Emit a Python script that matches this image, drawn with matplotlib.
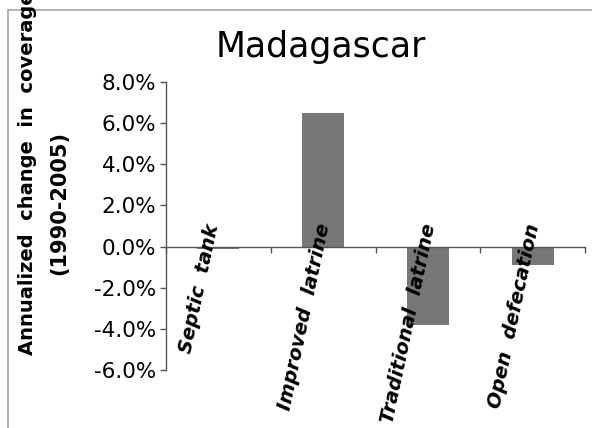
import matplotlib.pyplot as plt
from matplotlib.patches import Rectangle

categories = ["Septic  tank", "Improved  latrine", "Traditional  latrine", "Open  defecation"]
values = [-0.1, 6.5, -3.8, -0.9]
yticks = [-6, -4, -2, 0, 2, 4, 6, 8]

fig = plt.figure(figsize=(5.92, 4.28), dpi=100)
ax = fig.add_axes([166 / 592, 1 - 370 / 428, 419 / 592, 288 / 428])

# outer chart frame (cut off at right and bottom)
fig.add_artist(Rectangle((8 / 592, -0.1), 1.2, 1.1 - 10 / 428, transform=fig.transFigure,
                         fill=False, ec="#a6a6a6", lw=1.2))

x = list(range(len(categories)))
ax.bar(x, values, width=0.4, color="#777777", zorder=2)

ax.set_xlim(-0.5, 3.5)
ax.set_ylim(-6, 8)
ax.set_yticks(yticks)
ax.set_yticklabels([f"{v:.1f}%" for v in yticks], fontsize=15.5)
ax.set_xticks([-0.5, 0.5, 1.5, 2.5, 3.5])
ax.set_xticklabels([])

for s in ["top", "right"]:
    ax.spines[s].set_visible(False)
ax.spines["bottom"].set_position(("data", 0))
for s in ["left", "bottom"]:
    ax.spines[s].set_color("#555555")
    ax.spines[s].set_linewidth(1)
ax.tick_params(axis="both", direction="out", length=4, width=1, color="#555555", pad=3)

for i, lab in enumerate(categories):
    ax.text(i - 0.18, 1.2, lab, rotation=78, ha="center", va="top",
            fontsize=14, fontweight="bold", fontstyle="italic")

fig.text(321 / 592, 1 - 57 / 428, "Madagascar", ha="center", va="baseline", fontsize=25)

fig.text(28 / 592, 1 - 355 / 428, "Annualized  change  in  coverage", rotation=90,
         ha="center", va="bottom", fontsize=14, fontweight="bold")
fig.text(59 / 592, 1 - 275 / 428, "(1990-2005)", rotation=90,
         ha="center", va="bottom", fontsize=15, fontweight="bold")

fig.savefig("out.png", dpi=100)
